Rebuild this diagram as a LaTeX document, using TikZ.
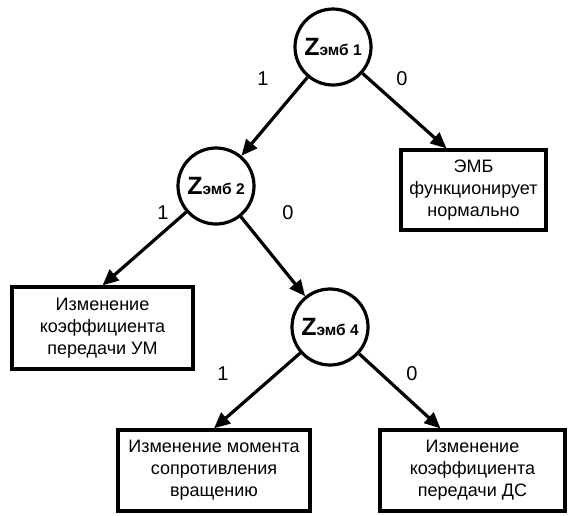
\documentclass[tikz,border=0pt]{standalone}
\usepackage{fontspec}
\setmainfont{Liberation Sans}
\usetikzlibrary{shapes}
\usetikzlibrary{arrows.meta}
\usetikzlibrary{positioning}
\usetikzlibrary{calc}
\begin{document}
\begin{tikzpicture}[x=1pt,y=-1pt]
\tikzstyle{etat}=[circle,draw,line width=3.2pt,minimum size=76pt,inner sep=0pt]
\tikzstyle{issue}=[rectangle,draw,line width=3.2pt,align=center,inner sep=2pt,
font=\fontsize{18}{22}\selectfont]
\tikzstyle{etiq}=[font=\fontsize{20}{20}\selectfont]
%styledesflèches
\tikzstyle{suite}=[-{Triangle[length=16pt,width=14pt]},line width=3.2pt]
\newcommand{\zemb}[1]{\textbf{\fontsize{25}{25}\selectfont Z\fontsize{15.5}{15.5}\selectfont эмб #1}}
\useasboundingbox (0,0) rectangle (577,515);
%placementdesnœuds
\node[etat] (z1) at (333,47) {\zemb{1}};
\node[etat] (z2) at (216,186) {\zemb{2}};
\node[etat] (z4) at (330,327) {\zemb{4}};
\node[issue,minimum width=145pt,minimum height=80pt] (norm) at (473.5,190) {ЭМБ\\функционирует\\нормально};
\node[issue,minimum width=181pt,minimum height=82pt] (um) at (102.5,328) {Изменение\\коэффициента\\передачи УМ};
\node[issue,minimum width=192pt,minimum height=81pt] (mom) at (214,470.5) {Изменение момента\\сопротивления\\вращению};
\node[issue,minimum width=185pt,minimum height=81pt] (ds) at (472.5,470.5) {Изменение\\коэффициента\\передачи ДС};
%Placementdesflèches
\draw[suite] (z1) -- (z2);
\draw[suite] (z1) -- ([xshift=-27pt]norm.north);
\draw[suite] (z2) -- (um.north);
\draw[suite] (z2) -- (z4);
\draw[suite] (z4) -- (mom.north);
\draw[suite] (z4) -- ([xshift=-32pt]ds.north);
%etiquettes
\node[etiq] (e11) at (263,79) {1};
\node[etiq] (e10) at (402,79) {0};
\node[etiq] (e21) at (163,213) {1};
\node[etiq] (e20) at (288,213) {0};
\node[etiq] (e41) at (223,374) {1};
\node[etiq] (e40) at (412,374) {0};
\end{tikzpicture}
\end{document}
